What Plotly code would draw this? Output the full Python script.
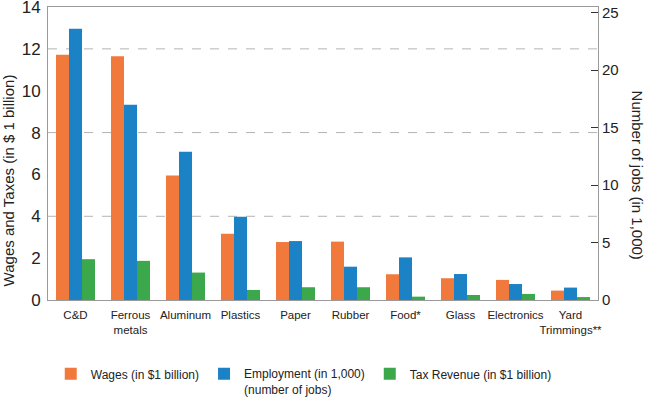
import plotly.graph_objects as go

categories = ["C&D", "Ferrous<br>metals", "Aluminum", "Plastics", "Paper",
              "Rubber", "Food*", "Glass", "Electronics", "Yard<br>Trimmings**"]
wages = [11.72, 11.65, 5.95, 3.16, 2.77, 2.79, 1.23, 1.04, 0.96, 0.45]
employment = [23.6, 17.0, 12.9, 7.25, 5.13, 2.9, 3.71, 2.26, 1.39, 1.08]
tax = [1.95, 1.87, 1.31, 0.48, 0.61, 0.61, 0.16, 0.24, 0.29, 0.14]
left_ticks = [0, 2, 4, 6, 8, 10, 12, 14]
right_ticks = [0, 5, 10, 15, 20, 25]
grid_values = [4, 8, 12]

FONT = "Liberation Sans, Arial, sans-serif"
ORANGE = "#F1793C"
BLUE = "#1C82C6"
GREEN = "#3BA84B"

fig = go.Figure()
fig.add_trace(go.Bar(x=categories, y=wages, name="Wages (in $1 billion)",
                     marker=dict(color=ORANGE, line=dict(width=0)),
                     offsetgroup="1", yaxis="y"))
fig.add_trace(go.Bar(x=categories, y=employment,
                     name="Employment (in 1,000)<br>(number of jobs)",
                     marker=dict(color=BLUE, line=dict(width=0)),
                     offsetgroup="2", yaxis="y2"))
fig.add_trace(go.Bar(x=categories, y=tax, name="Tax Revenue (in $1 billion)",
                     marker=dict(color=GREEN, line=dict(width=0)),
                     offsetgroup="3", yaxis="y"))

for g in grid_values:
    fig.add_shape(type="line", xref="paper", x0=0, x1=1, yref="y", y0=g, y1=g,
                  line=dict(color="#b4b4b4", width=1, dash="dash"), layer="below")

fig.add_annotation(text="Wages and Taxes (in $ 1 billion)", xref="paper", yref="paper",
                   x=-0.071, y=0.408, textangle=-90, showarrow=False,
                   font=dict(family=FONT, size=15, color="#222"),
                   xanchor="center", yanchor="middle")
fig.add_annotation(text="Number of jobs (in 1,000)", xref="paper", yref="paper",
                   x=1.0725, y=0.425, textangle=90, showarrow=False,
                   font=dict(family=FONT, size=15, color="#222"),
                   xanchor="center", yanchor="middle")

fig.update_layout(
    width=650, height=397,
    margin=dict(l=48, r=52, t=7, b=97, autoexpand=False),
    paper_bgcolor="white", plot_bgcolor="white",
    barmode="group", bargap=0.29, bargroupgap=0,
    font=dict(family=FONT, color="#222"),
    xaxis=dict(showline=True, linecolor="#9a9a9a", linewidth=1, mirror=True,
               ticks="", tickangle=0, automargin=False, ticklabelstandoff=4,
               tickfont=dict(size=11.5, family=FONT, color="#222"),
               showgrid=False),
    yaxis=dict(range=[0, 14], tickvals=left_ticks, showgrid=False, zeroline=False,
               showline=True, linecolor="#9a9a9a", linewidth=1, mirror=True,
               ticks="", ticklabelstandoff=3, automargin=False,
               ticklabeloverflow="allow",
               tickfont=dict(size=17, family=FONT, color="#222")),
    yaxis2=dict(range=[0, 25.5], tickvals=right_ticks, overlaying="y", side="right",
                showgrid=False, zeroline=False, showline=False, automargin=False,
                ticklabeloverflow="allow", ticklabelstandoff=3,
                ticks="inside", ticklen=7, tickcolor="#333", tickwidth=1,
                tickfont=dict(size=15, family=FONT, color="#222")),
    showlegend=True,
    legend=dict(orientation="h", x=0.005, y=-0.203, xanchor="left", yanchor="top",
                font=dict(size=12, family=FONT, color="#222"), valign="top",
                traceorder="normal", itemsizing="constant"),
)

fig.write_html("out.html", config={"displayModeBar": False},
               post_script="document.body.style.margin='0';document.body.style.padding='0';")
